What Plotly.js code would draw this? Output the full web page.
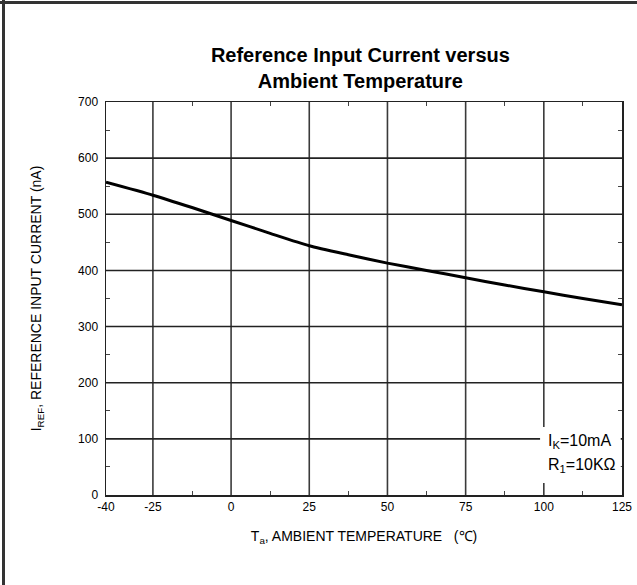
<!DOCTYPE html>
<html>
<head>
<meta charset="utf-8">
<script src="https://cdn.plot.ly/plotly-3.0.1.min.js"></script>
<style>
  html, body { margin: 0; padding: 0; background: #fff; }
  #wrap { position: relative; width: 637px; height: 585px; }
  #chart { position: absolute; left: 0; top: 0; width: 637px; height: 585px; }
  #frameTop { position: absolute; left: 0; top: 1px; width: 637px; height: 3px; background: #333; }
  #frameLeft { position: absolute; left: 2px; top: 0; width: 3px; height: 585px; background: #333; }
</style>
</head>
<body>
<div id="wrap">
  <div id="chart"></div>
  <div id="frameTop"></div>
  <div id="frameLeft"></div>
</div>
<script>
// Data
const temperature = [-40, -25, -12.5, 0, 12.5, 25, 37.5, 50, 62.5, 75, 87.5, 100, 112.5, 125];
const irefNanoAmp = [557, 534, 512, 489, 466, 444, 428, 413, 400, 387, 374, 362, 350, 339];

const xTickVals = [-40, -25, 0, 25, 50, 75, 100, 125];
const xTickText = ['-40', '-25', '0', '25', '50', '75', '100', '125'];
const xGridVals = [-25, 0, 25, 50, 75, 100];
const xMinorVals = [-12.5, 12.5, 37.5, 62.5, 87.5, 112.5];
const yTickVals = [0, 100, 200, 300, 400, 500, 600, 700];
const yGridVals = [100, 200, 300, 400, 500, 600];
const yMinorVals = [50, 150, 250, 350, 450, 550, 650];

const chartTitle = 'Reference Input Current versus<br>Ambient Temperature';
const xTitle = 'T<sub>a</sub>, AMBIENT TEMPERATURE   (℃)';
const yTitle = 'I<sub>REF</sub>, REFERENCE INPUT CURRENT (nA)';
const noteLine1 = 'I<sub>K</sub>=10mA';
const noteLine2 = 'R<sub>1</sub>=10KΩ';

const font = 'Liberation Sans, Arial, Helvetica, sans-serif';
const gridColor = '#222';

const shapes = [];
xGridVals.forEach(v => shapes.push({
  type: 'line', xref: 'x', yref: 'paper', x0: v, x1: v, y0: 0, y1: 1,
  line: { color: '#3a3a3a', width: 1.6 }, layer: 'below'
}));
yGridVals.forEach(v => shapes.push({
  type: 'line', xref: 'paper', yref: 'y', x0: 0, x1: 1, y0: v, y1: v,
  line: { color: gridColor, width: 1.6 }, layer: 'below'
}));
// white backing box behind the conditions note
shapes.push({
  type: 'rect', xref: 'x', yref: 'y', x0: 98.8, x1: 124.6, y0: 21.5, y1: 121,
  fillcolor: '#fff', line: { width: 0 }, layer: 'above'
});

const trace = {
  x: temperature, y: irefNanoAmp, type: 'scatter', mode: 'lines',
  line: { color: '#000', width: 3, shape: 'spline', smoothing: 0.6 },
  hoverinfo: 'skip', showlegend: false
};

const layout = {
  width: 637, height: 585,
  margin: { l: 106, r: 15, t: 102, b: 90 },
  paper_bgcolor: '#fff', plot_bgcolor: '#fff',
  font: { family: font, color: '#000', size: 12 },
  title: {
    text: '<b>' + chartTitle + '</b>',
    font: { family: font, size: 20, color: '#000' },
    xref: 'paper', x: 0.493, xanchor: 'center',
    yref: 'container', y: 0.894, yanchor: 'top'
  },
  xaxis: {
    range: [-40, 125], tickmode: 'array', tickvals: xTickVals, ticktext: xTickText,
    showgrid: false, zeroline: false,
    showline: true, linecolor: '#222', linewidth: 1.5, mirror: 'allticks',
    ticks: '', tickfont: { family: font, size: 12, color: '#000' },
    minor: { tickmode: 'array', tickvals: xMinorVals, ticks: 'inside', ticklen: 4, tickcolor: '#444', tickwidth: 1, showgrid: false },
    title: { text: xTitle, font: { family: font, size: 14, color: '#000' }, standoff: 18 }
  },
  yaxis: {
    range: [0, 700], tickmode: 'array', tickvals: yTickVals,
    showgrid: false, zeroline: false,
    showline: true, linecolor: '#222', linewidth: 1.5, mirror: 'allticks',
    ticks: '', tickfont: { family: font, size: 12, color: '#000' }, ticklabelstandoff: 4,
    minor: { tickmode: 'array', tickvals: yMinorVals, ticks: 'inside', ticklen: 4, tickcolor: '#444', tickwidth: 1, showgrid: false },
    title: { text: yTitle, font: { family: font, size: 14, color: '#000' }, standoff: 33 }
  },
  shapes: shapes,
  annotations: [
    { xref: 'x', yref: 'y', x: 100.7, y: 96, xanchor: 'left', yanchor: 'middle',
      text: noteLine1, showarrow: false, align: 'left',
      font: { family: font, size: 16, color: '#000' } },
    { xref: 'x', yref: 'y', x: 100.7, y: 53, xanchor: 'left', yanchor: 'middle',
      text: noteLine2, showarrow: false, align: 'left',
      font: { family: font, size: 16, color: '#000' } }
  ]
};

Plotly.newPlot('chart', [trace], layout, { staticPlot: true, displayModeBar: false });
</script>
</body>
</html>
